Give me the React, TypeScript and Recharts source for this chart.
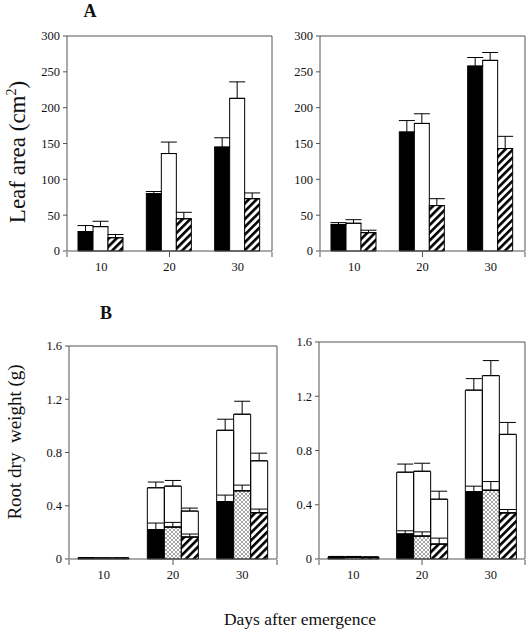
import React from 'react';
import { BarChart, Bar, XAxis, YAxis, ErrorBar } from 'recharts';

// ---------- data ----------
const days = ['10', '20', '30'];

// Panel A, left: leaf area (cm2)
const leafLBlack = [27, 80, 145];
const leafLBlackErr = [8.5, 3, 13];
const leafLWhite = [34, 136, 213];
const leafLWhiteErr = [7.5, 16, 23];
const leafLHatch = [18.5, 45, 73];
const leafLHatchErr = [4.5, 9, 8];

// Panel A, right
const leafRBlack = [37, 166, 258];
const leafRBlackErr = [2.6, 16, 12];
const leafRWhite = [38.7, 178, 266];
const leafRWhiteErr = [5, 13.5, 11];
const leafRHatch = [25.6, 63.4, 143];
const leafRHatchErr = [3.4, 9.6, 17];

// Panel B, left: root dry weight (g), lower part and total
const rootLBlack = [0.01, 0.22, 0.43];
const rootLBlackErr = [0, 0.05, 0.05];
const rootLBlackTot = [0.01, 0.535, 0.967];
const rootLBlackTotErr = [0, 0.043, 0.083];
const rootLDot = [0.008, 0.24, 0.5125];
const rootLDotErr = [0, 0.035, 0.0425];
const rootLDotTot = [0.008, 0.5475, 1.0875];
const rootLDotTotErr = [0, 0.0425, 0.0975];
const rootLHatch = [0.008, 0.165, 0.3475];
const rootLHatchErr = [0, 0.0225, 0.0275];
const rootLHatchTot = [0.008, 0.36, 0.7375];
const rootLHatchTotErr = [0, 0.0225, 0.0575];

// Panel B, right
const rootRBlack = [0.012, 0.184, 0.495];
const rootRBlackErr = [0.004, 0.024, 0.042];
const rootRBlackTot = [0.015, 0.64, 1.245];
const rootRBlackTotErr = [0.004, 0.06, 0.085];
const rootRDot = [0.012, 0.169, 0.507];
const rootRDotErr = [0.004, 0.031, 0.064];
const rootRDotTot = [0.015, 0.647, 1.352];
const rootRDotTotErr = [0.004, 0.059, 0.111];
const rootRHatch = [0.01, 0.11, 0.34];
const rootRHatchErr = [0.003, 0.044, 0.025];
const rootRHatchTot = [0.013, 0.441, 0.919];
const rootRHatchTotErr = [0.003, 0.059, 0.088];

const leafTicks = [0, 50, 100, 150, 200, 250, 300];
const rootTicks = [0, 0.4, 0.8, 1.2, 1.6];
const edgeTicks = [0, 1, 2, 3];

// ---------- tables ----------
const up = (e: number) => [0, e];

function leafTable(b: number[], be: number[], w: number[], we: number[], h: number[], he: number[]) {
  return days.map((day, i) => ({
    day,
    black: b[i], blackErr: up(be[i]),
    white: w[i], whiteErr: up(we[i]),
    hatch: h[i], hatchErr: up(he[i]),
  }));
}

function rootTable(
  b: number[], be: number[], bt: number[], bte: number[],
  d: number[], de: number[], dt: number[], dte: number[],
  h: number[], he: number[], ht: number[], hte: number[],
) {
  return days.map((day, i) => ({
    day,
    black: b[i], blackErr: up(be[i]), blackTop: bt[i] - b[i], blackTopErr: up(bte[i]),
    dot: d[i], dotErr: up(de[i]), dotTop: dt[i] - d[i], dotTopErr: up(dte[i]),
    hatch: h[i], hatchErr: up(he[i]), hatchTop: ht[i] - h[i], hatchTopErr: up(hte[i]),
  }));
}

const leafLeftData = leafTable(leafLBlack, leafLBlackErr, leafLWhite, leafLWhiteErr, leafLHatch, leafLHatchErr);
const leafRightData = leafTable(leafRBlack, leafRBlackErr, leafRWhite, leafRWhiteErr, leafRHatch, leafRHatchErr);
const rootLeftData = rootTable(
  rootLBlack, rootLBlackErr, rootLBlackTot, rootLBlackTotErr,
  rootLDot, rootLDotErr, rootLDotTot, rootLDotTotErr,
  rootLHatch, rootLHatchErr, rootLHatchTot, rootLHatchTotErr,
);
const rootRightData = rootTable(
  rootRBlack, rootRBlackErr, rootRBlackTot, rootRBlackTotErr,
  rootRDot, rootRDotErr, rootRDotTot, rootRDotTotErr,
  rootRHatch, rootRHatchErr, rootRHatchTot, rootRHatchTotErr,
);

// ---------- styles ----------
const FONT = '"Liberation Serif", "Times New Roman", Tinos, serif';
const FRAME = '#555';
const TEXT = '#111';

type BarSpec = { key: string; err: string; fill: string; stack?: string };

const leafBars: BarSpec[] = [
  { key: 'black', err: 'blackErr', fill: '#000' },
  { key: 'white', err: 'whiteErr', fill: '#fff' },
  { key: 'hatch', err: 'hatchErr', fill: 'url(#hatchPat)' },
];

const rootBars: BarSpec[] = [
  { key: 'black', err: 'blackErr', fill: '#000', stack: 'a' },
  { key: 'dot', err: 'dotErr', fill: 'url(#dotPat)', stack: 'b' },
  { key: 'hatch', err: 'hatchErr', fill: 'url(#hatchPat)', stack: 'c' },
  { key: 'blackTop', err: 'blackTopErr', fill: 'none', stack: 'a' },
  { key: 'dotTop', err: 'dotTopErr', fill: 'none', stack: 'b' },
  { key: 'hatchTop', err: 'hatchTopErr', fill: 'none', stack: 'c' },
];

type PlotBox = { l: number; t: number; r: number; b: number };

const tickStyle = { fontSize: 12.5, fill: TEXT, fontFamily: FONT };
const blank = () => '';

function Panel(props: {
  data: any[];
  bars: BarSpec[];
  domain: [number, number];
  ticks: number[];
  fmt: (v: number) => string;
  plot: PlotBox;
  catGap: number;
}) {
  const { data, bars, domain, ticks, fmt, plot, catGap } = props;
  const yW = 50;
  const mTop = 10;
  const mRight = 6;
  const mBottom = 34;
  const width = plot.r - plot.l + yW + 1 + mRight;
  const height = plot.b - plot.t + mTop + 1 + 2 + mBottom;
  return (
    <div style={{ position: 'absolute', left: plot.l - yW, top: plot.t - mTop - 1, width, height }}>
      <BarChart
        width={width}
        height={height}
        data={data}
        margin={{ top: mTop, right: mRight, bottom: mBottom, left: 0 }}
        barCategoryGap={catGap}
        barGap={0}
        style={{ fontFamily: FONT }}
      >
        <XAxis
          dataKey="day"
          tickLine={false}
          tickSize={0}
          tickMargin={11}
          axisLine={{ stroke: FRAME }}
          height={1}
          tick={tickStyle}
        />
        <XAxis
          xAxisId="edge"
          type="number"
          domain={[0, 3]}
          ticks={edgeTicks}
          interval={0}
          tickFormatter={blank}
          tick={tickStyle}
          tickSize={5}
          tickLine={{ stroke: FRAME }}
          axisLine={false}
          height={1}
          allowDataOverflow
        />
        <XAxis
          xAxisId="top"
          orientation="top"
          dataKey="day"
          tick={false}
          tickLine={false}
          axisLine={{ stroke: FRAME }}
          height={1}
        />
        <YAxis
          type="number"
          domain={domain}
          ticks={ticks}
          interval={0}
          tickFormatter={fmt}
          width={yW}
          tickSize={4}
          tickMargin={3}
          axisLine={{ stroke: FRAME }}
          tickLine={{ stroke: FRAME }}
          tick={tickStyle}
        />
        <YAxis
          yAxisId="right"
          orientation="right"
          type="number"
          domain={[0, 1]}
          tick={false}
          tickLine={false}
          axisLine={{ stroke: FRAME }}
          width={1}
        />
        {bars.map((s) => (
          <Bar
            key={s.key}
            dataKey={s.key}
            stackId={s.stack}
            fill={s.fill}
            stroke="#000"
            strokeWidth={1}
            isAnimationActive={false}
          >
            <ErrorBar dataKey={s.err} width={8} stroke="#000" strokeWidth={1} direction="y" />
          </Bar>
        ))}
      </BarChart>
    </div>
  );
}

const fmtLeaf = (v: number) => String(v);
const fmtRoot = (v: number) => (v === 0 ? '0' : v.toFixed(1));

export default function App() {
  return (
    <div
      style={{
        position: 'absolute',
        left: 0,
        top: 0,
        width: 530,
        height: 634,
        background: '#fff',
        fontFamily: FONT,
        overflow: 'hidden',
      }}
    >
      <svg width={0} height={0} style={{ position: 'absolute' }}>
        <defs>
          <pattern id="hatchPat" patternUnits="userSpaceOnUse" width={5.5} height={5.5} patternTransform="rotate(45)">
            <rect x={0} y={0} width={5.5} height={5.5} fill="#fff" />
            <rect x={0} y={0} width={2.6} height={5.5} fill="#000" />
          </pattern>
          <pattern id="dotPat" patternUnits="userSpaceOnUse" width={4} height={4}>
            <rect x={0} y={0} width={4} height={4} fill="#fff" />
            <circle cx={1} cy={1} r={0.65} fill="#000" />
            <circle cx={3} cy={3} r={0.65} fill="#000" />
          </pattern>
        </defs>
      </svg>

      <Panel data={leafLeftData} bars={leafBars} domain={[0, 300]} ticks={leafTicks} fmt={fmtLeaf}
        plot={{ l: 67, t: 36, r: 272, b: 251 }} catGap={11} />
      <Panel data={leafRightData} bars={leafBars} domain={[0, 300]} ticks={leafTicks} fmt={fmtLeaf}
        plot={{ l: 320, t: 36, r: 525, b: 251 }} catGap={11} />
      <Panel data={rootLeftData} bars={rootBars} domain={[0, 1.6]} ticks={rootTicks} fmt={fmtRoot}
        plot={{ l: 69, t: 346, r: 277, b: 559 }} catGap={9} />
      <Panel data={rootRightData} bars={rootBars} domain={[0, 1.6]} ticks={rootTicks} fmt={fmtRoot}
        plot={{ l: 319, t: 342, r: 525, b: 559 }} catGap={9} />

      <div style={{ position: 'absolute', left: 80, top: 0, width: 20, textAlign: 'center', fontSize: 18, fontWeight: 'bold', color: TEXT, lineHeight: '22px' }}>A</div>
      <div style={{ position: 'absolute', left: 96, top: 302, width: 20, textAlign: 'center', fontSize: 18, fontWeight: 'bold', color: TEXT, lineHeight: '22px' }}>B</div>

      <div style={{ position: 'absolute', left: 15, top: 152, transform: 'translate(-50%, -50%) rotate(-90deg)', whiteSpace: 'nowrap', fontSize: 23, color: TEXT, lineHeight: '26px' }}>
        Leaf area (cm<sup style={{ fontSize: 14 }}>2</sup>)
      </div>
      <div style={{ position: 'absolute', left: 15, top: 442, transform: 'translate(-50%, -50%) rotate(-90deg)', whiteSpace: 'pre', fontSize: 19, color: TEXT, lineHeight: '22px' }}>
        {'Root dry  weight (g)'}
      </div>
      <div style={{ position: 'absolute', left: 300, top: 619, transform: 'translate(-50%, -50%)', whiteSpace: 'nowrap', fontSize: 17.5, color: TEXT, lineHeight: '20px' }}>
        Days after emergence
      </div>
    </div>
  );
}
